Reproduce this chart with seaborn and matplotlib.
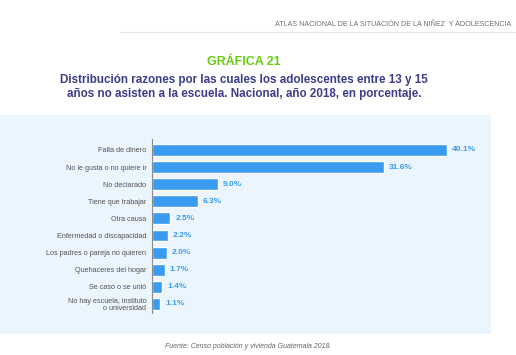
import matplotlib
matplotlib.use("Agg")
import matplotlib.pyplot as plt
import seaborn as sns
import pandas as pd
from matplotlib.patches import Rectangle
from matplotlib.lines import Line2D
from matplotlib import font_manager

categories = [
    "Falta de dinero",
    "No le gusta o no quiere ir",
    "No declarado",
    "Tiene que trabajar",
    "Otra causa",
    "Enfermedad o discapacidad",
    "Los padres o pareja no quieren",
    "Quehaceres del hogar",
    "Se casó o se unió",
    "No hay escuela, instituto\no universidad",
]
values = [40.1, 31.6, 9.0, 6.3, 2.5, 2.2, 2.0, 1.7, 1.4, 1.1]

header = "ATLAS NACIONAL DE LA SITUACIÓN DE LA NIÑEZ  Y ADOLESCENCIA"
title = "GRÁFICA 21"
subtitle = ("Distribución razones por las cuales los adolescentes entre 13 y 15\n"
            "años no asisten a la escuela. Nacional, año 2018, en porcentaje.")
source = "Fuente: Censo población y vivienda Guatemala 2018."

df = pd.DataFrame({"categoria": categories, "valor": values})

sns.set_theme(style="white")
plt.rcParams["font.family"] = ["Liberation Sans", "DejaVu Sans"]

names = {f.name for f in font_manager.fontManager.ttflist}
has_narrow = "Liberation Sans Narrow" in names
narrow = ["Liberation Sans Narrow", "Liberation Sans"]
tick_size = 6.2 if has_narrow else 5.2
val_size = 7.0 if has_narrow else 6.0

W, H = 516, 355
fig = plt.figure(figsize=(W / 100, H / 100), dpi=100)
fig.patch.set_facecolor("white")

# panel background
fig.patches.append(Rectangle((0, 1 - 334 / H), 491 / W, (334 - 115) / H,
                             transform=fig.transFigure, facecolor="#eaf5fe",
                             edgecolor="none", zorder=-5))
# header line
fig.lines.append(Line2D([120 / W, 1], [1 - 32 / H, 1 - 32 / H],
                        transform=fig.transFigure, color="#e3e3e3", lw=0.8))

fig.text(511 / W, 1 - 25 / H, header, ha="right", va="center",
         fontsize=5.1, color="#6e6e6e")
fig.text(244 / W, 1 - 62 / H, title, ha="center", va="center",
         fontsize=9, color="#66cc11", fontweight="bold")
fig.text(244 / W, 1 - 87 / H, subtitle, ha="center", va="center",
         fontsize=8.4, color="#3d3d8c", fontweight="bold", linespacing=1.22)
fig.text(248 / W, 1 - 346 / H, source, ha="center", va="center",
         fontsize=5.0, color="#666666", style="italic")

ax = fig.add_axes([152 / W, 1 - 313 / H, (491 - 152) / W, 174 / H])
ax.set_facecolor("none")
ax.set_zorder(2)
sns.barplot(data=df, x="valor", y="categoria", orient="h", color="#3a9cf0",
            saturation=1, width=0.7, ax=ax)
ax.set_xlim(0, 46.1)
ax.set_ylim(9.53, -0.64)
ax.set_xlabel("")
ax.set_ylabel("")
ax.set_xticks([])
for s in ["top", "right", "bottom"]:
    ax.spines[s].set_visible(False)
ax.spines["left"].set_color("#8a8a8a")
ax.spines["left"].set_linewidth(0.8)
ax.tick_params(axis="y", length=0, pad=4, labelsize=tick_size, labelcolor="#555555")
for lab in ax.get_yticklabels():
    lab.set_linespacing(0.95)
    lab.set_family(narrow)

for container in ax.containers:
    ax.bar_label(container, labels=[f"{v:.1f}%" for v in values], padding=3.5,
                 fontsize=val_size, fontweight="bold", color="#3a9cf0",
                 family=narrow)

fig.savefig("out.png", dpi=100, facecolor="white")
